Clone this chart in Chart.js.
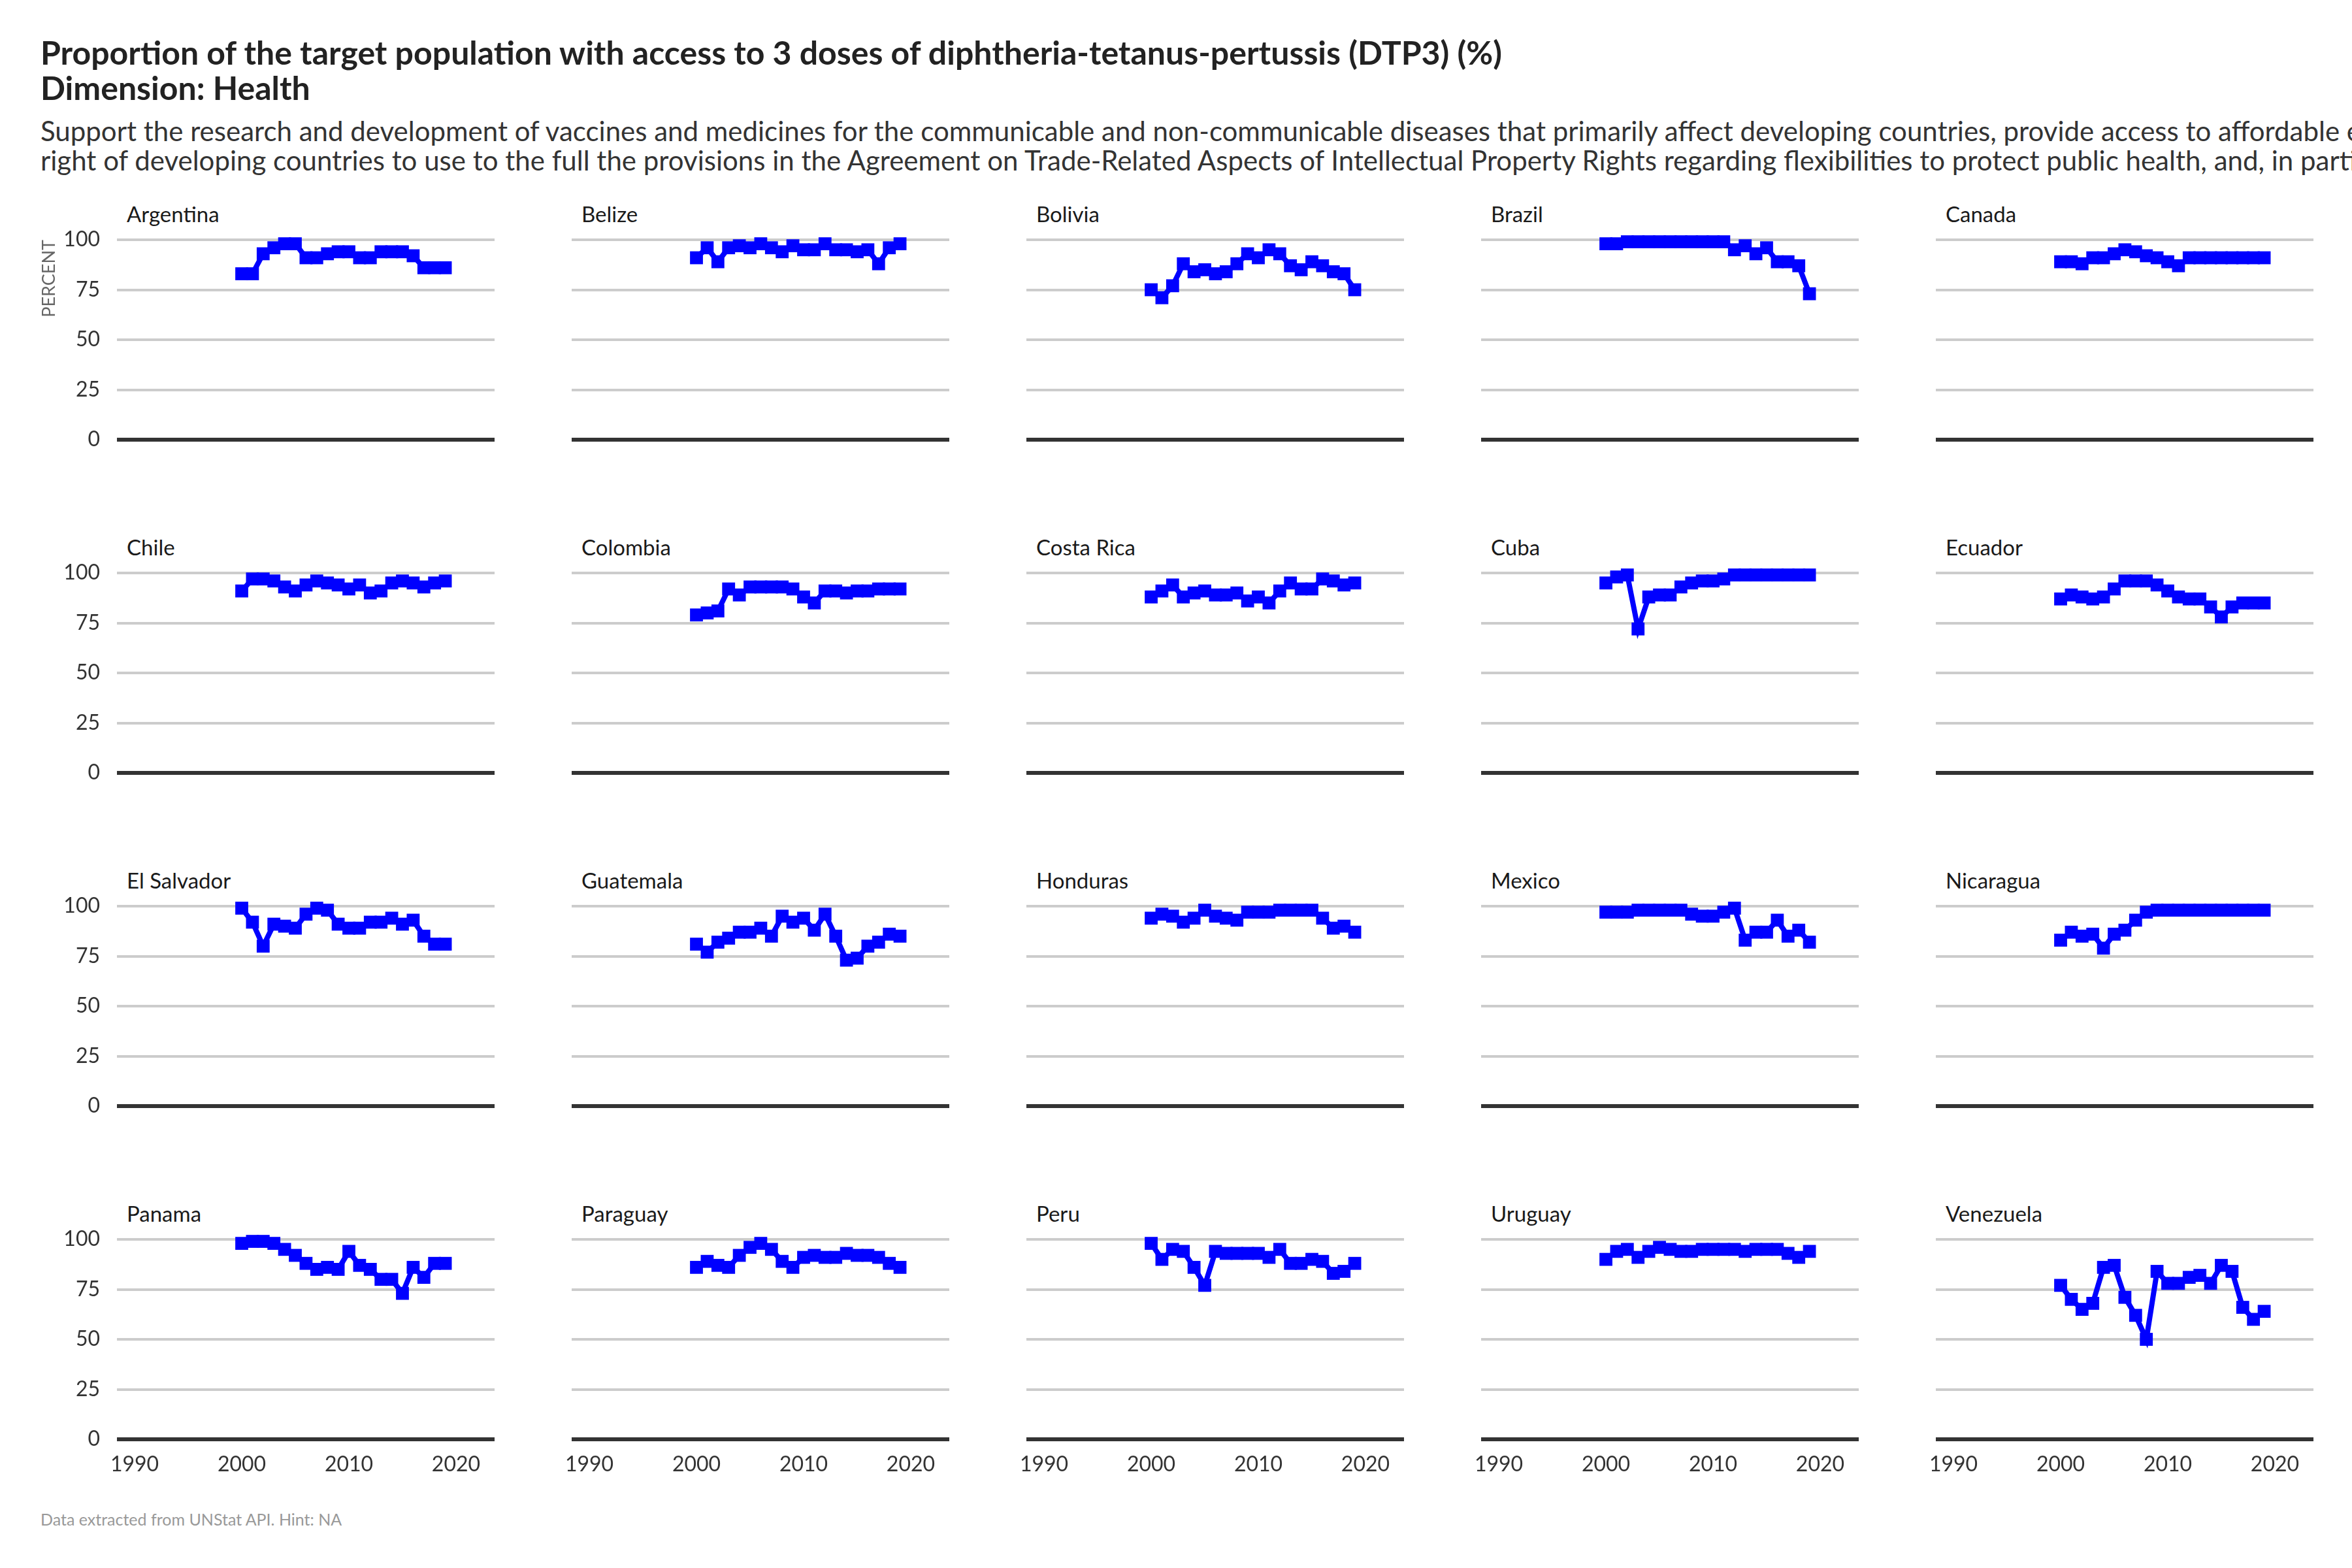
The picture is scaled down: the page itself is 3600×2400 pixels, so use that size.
<!DOCTYPE html>
<html>
<head>
<meta charset="utf-8">
<script src="https://cdn.jsdelivr.net/npm/chart.js@4.4.0/dist/chart.umd.min.js"></script>
<style>
  body { margin: 0; background: #fff; }
  #page { position: relative; width: 3600px; height: 2400px; overflow: hidden; font-family: Lato, "Noto Sans", sans-serif; }
  .title { position: absolute; left: 62px; top: 53px; font-size: 50px; line-height: 54px; font-weight: 700; color: #222; white-space: nowrap; }
  .subtitle { position: absolute; left: 62px; top: 178px; font-size: 42px; line-height: 45px; color: #333; white-space: nowrap; }
  .caption { position: absolute; left: 62px; top: 2310px; font-size: 25px; color: #999; white-space: nowrap; }
  .strip { position: absolute; font-size: 33px; line-height: 40px; color: #1a1a1a; white-space: nowrap; }
  canvas.panel { position: absolute; }
</style>
</head>
<body>
<div id="page">
  <div class="title">Proportion of the target population with access to 3 doses of diphtheria-tetanus-pertussis (DTP3) (%)<br>Dimension: Health</div>
  <div class="subtitle">Support the research and development of vaccines and medicines for the communicable and non-communicable diseases that primarily affect developing countries, provide access to affordable essential medicines and vaccines, in accordance with the Doha Declaration on the TRIPS Agreement and Public Health, which affirms the<br>right of developing countries to use to the full the provisions in the Agreement on Trade-Related Aspects of Intellectual Property Rights regarding flexibilities to protect public health, and, in particular, provide access to medicines for all</div>
  <div class="caption">Data extracted from UNStat API. Hint: NA</div>
</div>
<script>
const years = [2000, 2001, 2002, 2003, 2004, 2005, 2006, 2007, 2008, 2009,
  2010, 2011, 2012, 2013, 2014, 2015, 2016, 2017, 2018, 2019];

const countries = ["Argentina", "Belize", "Bolivia", "Brazil", "Canada",
  "Chile", "Colombia", "Costa Rica", "Cuba", "Ecuador",
  "El Salvador", "Guatemala", "Honduras", "Mexico", "Nicaragua",
  "Panama", "Paraguay", "Peru", "Uruguay", "Venezuela"];

const argentina = [83, 83, 93, 96, 98, 98, 91, 91, 93, 94, 94, 91, 91, 94, 94, 94, 92, 86, 86, 86];
const belize = [91, 96, 89, 96, 97, 96, 98, 96, 94, 97, 95, 95, 98, 95, 95, 94, 95, 88, 96, 98];
const bolivia = [75, 71, 77, 88, 84, 85, 83, 84, 88, 93, 91, 95, 93, 87, 85, 89, 87, 84, 83, 75];
const brazil = [98, 98, 99, 99, 99, 99, 99, 99, 99, 99, 99, 99, 95, 97, 93, 96, 89, 89, 87, 73];
const canada = [89, 89, 88, 91, 91, 93, 95, 94, 92, 91, 89, 87, 91, 91, 91, 91, 91, 91, 91, 91];
const chile = [91, 97, 97, 96, 93, 91, 94, 96, 95, 94, 92, 94, 90, 91, 95, 96, 95, 93, 95, 96];
const colombia = [79, 80, 81, 92, 89, 93, 93, 93, 93, 92, 88, 85, 91, 91, 90, 91, 91, 92, 92, 92];
const costaRica = [88, 91, 94, 88, 90, 91, 89, 89, 90, 86, 88, 85, 91, 95, 92, 92, 97, 96, 94, 95];
const cuba = [95, 98, 99, 72, 88, 89, 89, 93, 95, 96, 96, 97, 99, 99, 99, 99, 99, 99, 99, 99];
const ecuador = [87, 89, 88, 87, 88, 92, 96, 96, 96, 94, 91, 88, 87, 87, 83, 78, 83, 85, 85, 85];
const elSalvador = [99, 92, 80, 91, 90, 89, 96, 99, 98, 91, 89, 89, 92, 92, 94, 91, 93, 85, 81, 81];
const guatemala = [81, 77, 82, 84, 87, 87, 89, 85, 95, 92, 94, 88, 96, 85, 73, 74, 80, 82, 86, 85];
const honduras = [94, 96, 95, 92, 94, 98, 95, 94, 93, 97, 97, 97, 98, 98, 98, 98, 94, 89, 90, 87];
const mexico = [97, 97, 97, 98, 98, 98, 98, 98, 96, 95, 95, 97, 99, 83, 87, 87, 93, 85, 88, 82];
const nicaragua = [83, 87, 85, 86, 79, 86, 88, 93, 97, 98, 98, 98, 98, 98, 98, 98, 98, 98, 98, 98];
const panama = [98, 99, 99, 98, 95, 92, 88, 85, 86, 85, 94, 87, 85, 80, 80, 73, 86, 81, 88, 88];
const paraguay = [86, 89, 87, 86, 92, 96, 98, 95, 89, 86, 91, 92, 91, 91, 93, 92, 92, 91, 88, 86];
const peru = [98, 90, 95, 94, 86, 77, 94, 93, 93, 93, 93, 91, 95, 88, 88, 90, 89, 83, 84, 88];
const uruguay = [90, 94, 95, 91, 94, 96, 95, 94, 94, 95, 95, 95, 95, 94, 95, 95, 95, 93, 91, 94];
const venezuela = [77, 70, 65, 68, 86, 87, 71, 62, 50, 84, 78, 78, 81, 82, 78, 87, 84, 66, 60, 64];

const seriesList = [argentina, belize, bolivia, brazil, canada,
  chile, colombia, costaRica, cuba, ecuador,
  elSalvador, guatemala, honduras, mexico, nicaragua,
  panama, paraguay, peru, uruguay, venezuela];

const xTicks = [1990, 2000, 2010, 2020];
const yTicks = [0, 25, 50, 75, 100];

const page = document.getElementById("page");
const tickFont = { family: "Lato", size: 32 };

function createPanel(idx) {
  const row = Math.floor(idx / 5);
  const col = idx % 5;

  // facet label above each panel
  const strip = document.createElement("div");
  strip.className = "strip";
  strip.textContent = countries[idx];
  strip.style.left = 194 + col * 696 + "px";
  strip.style.top = 307 + row * 510 + "px";
  page.appendChild(strip);

  const canvas = document.createElement("canvas");
  canvas.className = "panel";
  canvas.width = 712;
  canvas.height = 406;
  canvas.style.left = 59 + col * 696 + "px";
  canvas.style.top = 347 + row * 510 + "px";
  page.appendChild(canvas);

  const values = seriesList[idx];

  new Chart(canvas, {
    type: "line",
    data: {
      datasets: [{
        data: years.map((yr, i) => ({ x: yr, y: values[i] })),
        borderColor: "#0000ff",
        backgroundColor: "#0000ff",
        borderWidth: 8,
        pointStyle: "rect",
        pointRadius: 14,
        pointHoverRadius: 14,
        pointBorderWidth: 0,
        tension: 0,
        clip: false,
      }],
    },
    options: {
      responsive: false,
      animation: false,
      devicePixelRatio: 1,
      events: [],
      layout: { padding: { top: 20, left: 0, right: 0, bottom: 0 } },
      plugins: {
        legend: { display: false },
        tooltip: { enabled: false },
      },
      scales: {
        x: {
          type: "linear",
          min: 1988.35,
          max: 2023.6,
          afterBuildTicks: (scale) => { scale.ticks = xTicks.map((v) => ({ value: v })); },
          afterFit: (scale) => { scale.height = 80; },
          grid: { display: false },
          border: { display: false },
          ticks: {
            display: row === 3,
            color: "#333",
            font: tickFont,
            padding: 11,
            maxRotation: 0,
            autoSkip: false,
            callback: (v) => String(v),
          },
        },
        y: {
          min: 0,
          max: 100,
          afterBuildTicks: (scale) => { scale.ticks = yTicks.map((v) => ({ value: v })); },
          afterFit: (scale) => {
            // same plot box in every panel, labelled or not
            scale.width = 120;
            scale.paddingTop = 0;
            scale.paddingBottom = 0;
          },
          grid: {
            drawTicks: false,
            color: (ctx) => (ctx.tick && ctx.tick.value === 0 ? "#333333" : "#cccccc"),
            lineWidth: (ctx) => (ctx.tick && ctx.tick.value === 0 ? 6 : 4),
          },
          border: { display: false },
          ticks: {
            display: col === 0,
            color: "#333",
            font: tickFont,
            padding: 26,
          },
          title: {
            display: idx === 0,
            text: "PERCENT",
            align: "end",
            color: "#666",
            font: { family: "Lato", size: 27 },
            padding: 0,
          },
        },
      },
    },
  });
}

countries.forEach((_, i) => createPanel(i));
</script>
</body>
</html>
